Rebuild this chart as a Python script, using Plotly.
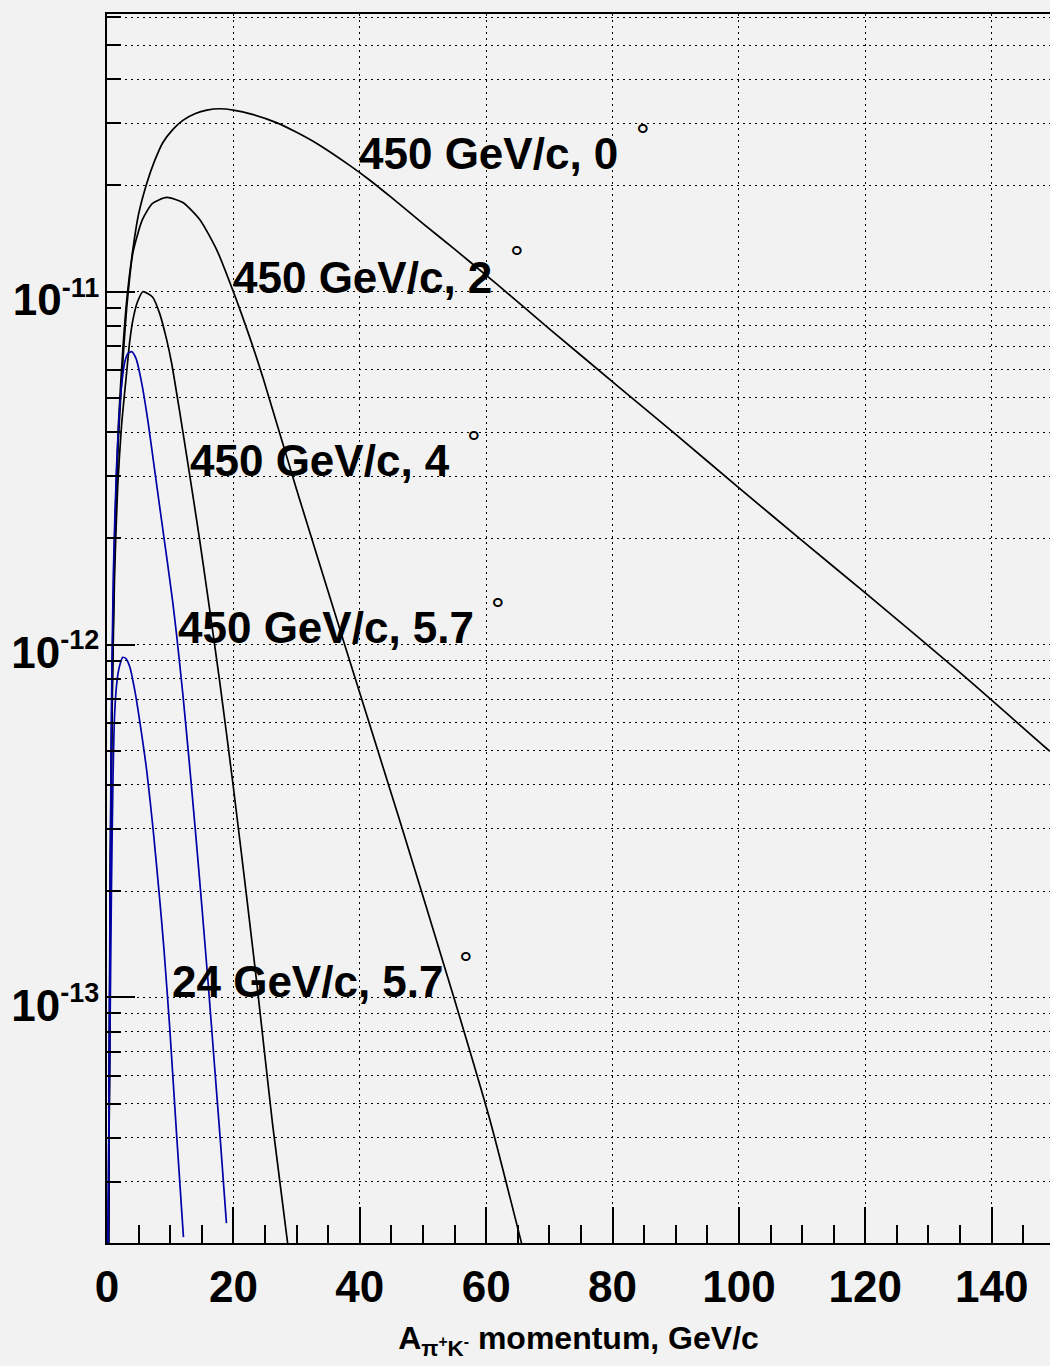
import math
import plotly.graph_objects as go

# ---- data (x: GeV/c, y: value) ----
x_450_0 = [0.25, 0.5, 0.8, 1.2, 1.8, 2.5, 3.2, 4.1, 5.0, 6.3, 7.5, 8.8, 10.4, 12.0, 14.0, 15.8, 17.8, 20.0,
           23.0, 26.9, 30.0, 33.2, 38.4, 41.6, 45.0, 50.0, 55.0, 61.7, 70.0, 81.1, 90.0, 100.1, 110.0, 120.0,
           135.0, 149.2]
y_450_0 = [2.0e-14, 2.0e-13, 7.9e-13, 2.0e-12, 4.17e-12, 6.84e-12, 9.77e-12, 1.32e-11, 1.66e-11, 2.03e-11,
           2.34e-11, 2.64e-11, 2.88e-11, 3.06e-11, 3.20e-11, 3.27e-11, 3.30e-11, 3.27e-11,
           3.18e-11, 3.01e-11, 2.83e-11, 2.63e-11, 2.28e-11, 2.07e-11, 1.85e-11, 1.56e-11, 1.32e-11,
           1.05e-11, 7.85e-12, 5.35e-12, 3.94e-12, 2.77e-12, 1.97e-12, 1.40e-12, 8.32e-13, 4.98e-13]

x_450_2 = [0.25, 0.5, 0.8, 1.2, 1.8, 2.5, 3.2, 4.1, 5.6, 7.2, 9.45, 12.0, 14.7, 17.4, 19.9, 22.6, 24.7,
           30.0, 37.6, 46.3, 55.0, 60.6, 65.6]
y_450_2 = [2.0e-14, 1.78e-13, 7.08e-13, 1.78e-12, 3.80e-12, 6.31e-12, 9.33e-12, 1.29e-11, 1.60e-11,
           1.78e-11, 1.85e-11, 1.79e-11, 1.60e-11, 1.31e-11, 1.01e-11, 7.41e-12, 5.69e-12,
           2.75e-12, 1.0e-12, 3.18e-13, 9.84e-14, 4.49e-14, 2.01e-14]

x_450_4 = [0.25, 0.5, 0.8, 1.2, 1.7, 2.3, 3.1, 3.6, 4.1, 4.8, 5.67, 7.2, 8.3, 9.45, 10.2, 11.5, 13.0,
           14.5, 16.0, 17.8, 19.9, 22.2, 23.7, 26.2, 28.6]
y_450_4 = [2.0e-14, 1.58e-13, 6.31e-13, 1.58e-12, 2.82e-12, 4.17e-12, 5.89e-12, 7.24e-12, 8.32e-12,
           9.33e-12, 1.0e-11, 9.66e-12, 8.71e-12, 7.30e-12, 6.31e-12, 4.57e-12, 3.09e-12,
           2.07e-12, 1.35e-12, 7.94e-13, 4.07e-13, 1.86e-13, 1.10e-13, 4.37e-14, 2.0e-14]

x_450_57 = [0.2, 0.45, 0.7, 1.0, 1.5, 2.0, 2.4, 2.8, 3.3, 3.9, 4.6, 5.5, 6.5, 7.5, 8.5, 9.5, 10.4, 11.0,
            12.0, 13.0, 14.0, 15.0, 16.0, 17.0, 18.0, 18.9]
y_450_57 = [2.0e-14, 1.58e-13, 6.31e-13, 1.58e-12, 3.16e-12, 4.68e-12, 5.62e-12, 6.31e-12, 6.68e-12,
            6.76e-12, 6.46e-12, 5.50e-12, 4.27e-12, 3.16e-12, 2.34e-12, 1.74e-12, 1.32e-12, 1.07e-12,
            7.24e-13, 4.68e-13, 2.95e-13, 1.82e-13, 1.10e-13, 6.46e-14, 3.80e-14, 2.29e-14]

x_24_57 = [0.12, 0.25, 0.45, 0.7, 0.95, 1.2, 1.6, 2.0, 2.5, 3.0, 3.6, 4.4, 5.2, 6.3, 7.3, 8.3, 9.0, 9.9,
           11.0, 12.1]
y_24_57 = [2.0e-14, 3.5e-14, 7.08e-14, 2.0e-13, 4.17e-13, 6.31e-13, 7.94e-13, 8.71e-13, 9.20e-13,
           9.12e-13, 8.65e-13, 7.41e-13, 6.03e-13, 4.37e-13, 2.99e-13, 1.93e-13, 1.38e-13, 8.32e-14,
           4.12e-14, 2.09e-14]

labels = ["450 GeV/c, 0", "450 GeV/c, 2", "450 GeV/c, 4", "450 GeV/c, 5.7", "24 GeV/c, 5.7"]
label_x = [39.6, 19.6, 12.8, 10.9, 9.9]
label_y = [2.47e-11, 1.10e-11, 3.33e-12, 1.12e-12, 1.11e-13]
deg_x = [84.8, 64.9, 58.1, 61.9, 56.8]
deg_y = [2.91e-11, 1.31e-11, 3.93e-12, 1.32e-12, 1.31e-13]

x_ticks = [0, 20, 40, 60, 80, 100, 120, 140]
y_major = [1e-13, 1e-12, 1e-11]
y_major_exp = ["-13", "-12", "-11"]
y_minor = [k * 10.0 ** e for e in (-14, -13, -12, -11) for k in range(2, 10)]

BLUE = "#0000a8"
series = [
    (x_450_0, y_450_0, "black"),
    (x_450_2, y_450_2, "black"),
    (x_450_4, y_450_4, "black"),
    (x_450_57, y_450_57, BLUE),
    (x_24_57, y_24_57, BLUE),
]

fig = go.Figure()
for xs, ys, col in series:
    fig.add_trace(go.Scatter(x=xs, y=ys, mode="lines",
                             line=dict(color=col, width=1.7, shape="spline", smoothing=0.6),
                             showlegend=False, hoverinfo="skip"))

FONT = "Liberation Sans, Arial, sans-serif"
for t, lx, ly in zip(labels, label_x, label_y):
    fig.add_annotation(x=lx, y=math.log10(ly), xref="x", yref="y", text=t, showarrow=False,
                       xanchor="left", yanchor="middle",
                       font=dict(family=FONT, size=44, color="black", weight="bold"))
for dx, dy in zip(deg_x, deg_y):
    fig.add_annotation(x=dx, y=math.log10(dy), xref="x", yref="y", text="°", showarrow=False,
                       xanchor="center", yanchor="middle", yshift=-7,
                       font=dict(family=FONT, size=34, color="black"))

fig.update_layout(
    width=1050, height=1366,
    margin=dict(l=107, r=0, t=14, b=123),
    paper_bgcolor="#f2f2f2", plot_bgcolor="#f2f2f2",
    showlegend=False,
)
fig.update_xaxes(
    range=[0, 149.23], tickmode="array", tickvals=x_ticks,
    ticks="inside", ticklen=36, tickwidth=1.5, tickcolor="black",
    showline=True, linewidth=2, linecolor="black", mirror=True,
    showgrid=True, gridcolor="black", gridwidth=1, griddash="2px,4px",
    zeroline=False,
    minor=dict(dtick=5, tick0=0, ticks="inside", ticklen=18, tickwidth=1.5, tickcolor="black", showgrid=False),
    tickfont=dict(family=FONT, size=44, color="black", weight="bold"),
    ticklabelstandoff=4,
    title=dict(text="A<sub>π<sup>+</sup>K<sup>-</sup></sub> momentum, GeV/c",
               font=dict(family=FONT, size=32, color="black", weight="bold"), standoff=17),
)
fig.update_yaxes(
    type="log", range=[-13.6964, -10.2129],
    tickmode="array", tickvals=y_major,
    ticktext=["10<sup><span style='font-size:27px'>%s</span></sup>" % e for e in y_major_exp],
    ticks="inside", ticklen=28, tickwidth=1.5, tickcolor="black",
    showline=True, linewidth=2, linecolor="black", mirror=False,
    showgrid=True, gridcolor="black", gridwidth=1, griddash="2px,4px",
    zeroline=False,
    minor=dict(tickmode="array", tickvals=y_minor, ticks="inside", ticklen=14, tickwidth=1.5,
               tickcolor="black", showgrid=True, gridcolor="black", gridwidth=1, griddash="2px,4px"),
    tickfont=dict(family=FONT, size=44, color="black", weight="bold"),
    ticklabelstandoff=-3, ticklabelshift=8,
)
fig.write_html("out.html")
